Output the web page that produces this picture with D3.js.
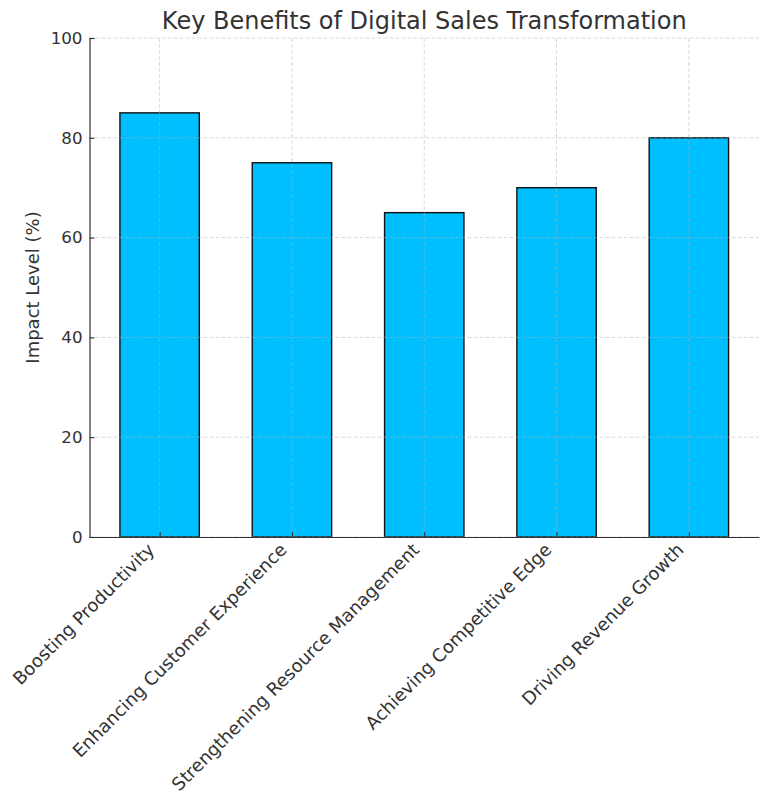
<!DOCTYPE html>
<html>
<head>
<meta charset="utf-8">
<script src="https://cdn.jsdelivr.net/npm/d3@7"></script>
<style>
  body { margin: 0; background: #fff; }
  text { font-family: "DejaVu Sans", sans-serif; fill: #333; }
</style>
</head>
<body>
<div id="chart"></div>
<script>
// chart data
const categories = ["Boosting Productivity", "Enhancing Customer Experience",
  "Strengthening Resource Management", "Achieving Competitive Edge", "Driving Revenue Growth"];
const impactValues = [85, 75, 65, 70, 80];
const yTicks = [0, 20, 40, 60, 80, 100];

const width = 768, height = 806;
const margin = {top: 38, right: 9, bottom: 269, left: 89.5};
const plotW = width - margin.left - margin.right;
const plotH = height - margin.top - margin.bottom;

const svg = d3.select("#chart").append("svg")
    .attr("width", width)
    .attr("height", height);

const g = svg.append("g")
    .attr("transform", `translate(${margin.left},${margin.top})`);

// matplotlib-like x range: bars 0.6 wide plus 5% margins
const x = d3.scaleLinear()
    .domain([-0.53, categories.length - 1 + 0.53])
    .range([0, plotW]);
const y = d3.scaleLinear().domain([0, 100]).range([plotH, 0]);
const barW = x(0.6) - x(0);

// bars
g.selectAll("rect.bar")
    .data(impactValues)
    .enter()
    .append("rect")
    .attr("class", "bar")
    .attr("x", (d, i) => x(i) - barW / 2)
    .attr("y", d => y(d))
    .attr("width", barW)
    .attr("height", d => plotH - y(d))
    .attr("fill", "#00bfff")
    .attr("stroke", "#111")
    .attr("stroke-width", 1.4);

// grid on top of bars
const grid = g.append("g").attr("class", "grid");
grid.selectAll("line.h")
    .data(yTicks)
    .enter().append("line")
    .attr("x1", 0).attr("x2", plotW)
    .attr("y1", d => y(d)).attr("y2", d => y(d));
grid.selectAll("line.v")
    .data(categories)
    .enter().append("line")
    .attr("x1", (d, i) => x(i)).attr("x2", (d, i) => x(i))
    .attr("y1", 0).attr("y2", plotH);
grid.selectAll("line")
    .attr("stroke", "#b0b0b0")
    .attr("stroke-opacity", 0.6)
    .attr("stroke-width", 0.8)
    .attr("stroke-dasharray", "4,2");

// y axis (inward ticks)
const yAxis = g.append("g")
    .call(d3.axisLeft(y).tickValues(yTicks).tickSize(-5).tickPadding(7));
yAxis.select(".domain").attr("stroke", "#333").attr("stroke-width", 1.2);
yAxis.selectAll(".tick line").attr("stroke", "#333").attr("stroke-width", 1.1);
yAxis.selectAll(".tick text")
    .style("font-size", "16.7px")
    .style("font-family", "DejaVu Sans, sans-serif")
    .attr("fill", "#333");

// x axis (inward ticks, rotated labels)
const xAxis = g.append("g")
    .attr("transform", `translate(0,${plotH})`)
    .call(d3.axisBottom(x).tickValues(d3.range(categories.length))
        .tickSize(-5).tickSizeOuter(0).tickFormat(""));
xAxis.select(".domain").attr("stroke", "#333").attr("stroke-width", 1.2);
xAxis.selectAll(".tick line").attr("stroke", "#333").attr("stroke-width", 1.1);

g.selectAll("text.xlabel")
    .data(categories)
    .enter()
    .append("text")
    .attr("class", "xlabel")
    .attr("transform", (d, i) => `translate(${x(i) - 4},${plotH + 14}) rotate(-45)`)
    .attr("text-anchor", "end")
    .style("font-size", "18px")
    .text(d => d);

// y axis label
svg.append("text")
    .attr("transform", `translate(39,${margin.top + plotH / 2}) rotate(-90)`)
    .attr("text-anchor", "middle")
    .style("font-size", "18px")
    .text("Impact Level (%)");

// title
svg.append("text")
    .attr("x", margin.left + plotW / 2)
    .attr("y", 29)
    .attr("text-anchor", "middle")
    .style("font-size", "24px")
    .text("Key Benefits of Digital Sales Transformation");
</script>
</body>
</html>
